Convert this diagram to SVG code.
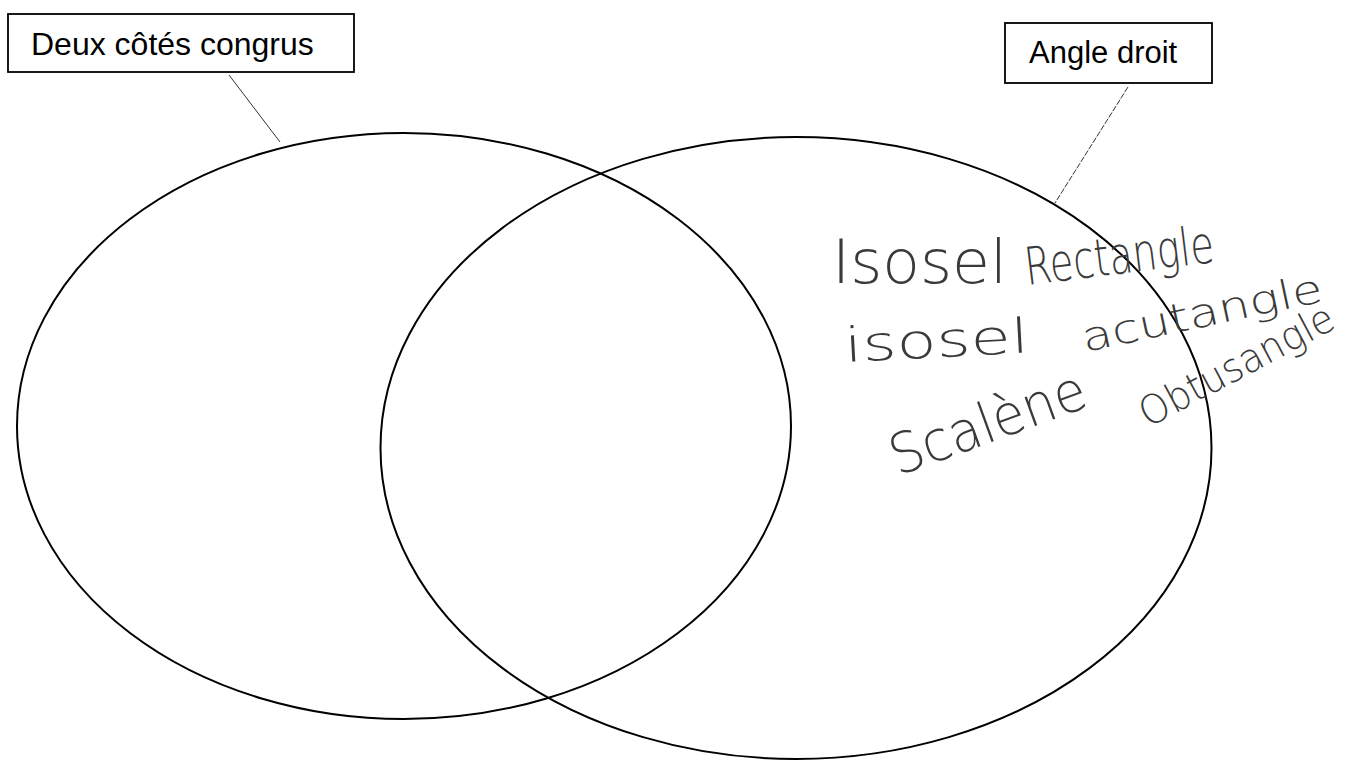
<svg xmlns="http://www.w3.org/2000/svg" width="1361" height="761" viewBox="0 0 1361 761">
  <style>
    .box { fill: #ffffff; stroke: #000000; stroke-width: 1.8; }
    .lbl { font-family: "Liberation Sans", Arial, sans-serif; fill: #000000; }
    .set { fill: none; stroke: #000000; stroke-width: 2; }
    .lead { stroke: #333333; stroke-width: 1; fill: none; }
    .hand { font-family: "DejaVu Sans", "Liberation Sans", sans-serif; font-weight: 200; fill: #3a3a3a; }
  </style>
  <rect width="1361" height="761" fill="#ffffff"/>

  <g id="set-deux-cotes-congrus">
    <ellipse class="set" cx="404" cy="426" rx="387" ry="293"/>
  </g>
  <g id="set-angle-droit">
    <ellipse class="set" cx="796" cy="448" rx="415.5" ry="311"/>
  </g>

  <g id="connectors">
    <line class="lead" x1="229" y1="75" x2="280" y2="142"/>
    <line class="lead" x1="1128" y1="87" x2="1055" y2="203" stroke-dasharray="6 1.5"/>
  </g>

  <g id="label-deux-cotes-congrus">
    <rect class="box" x="8" y="14" width="346" height="58"/>
    <text class="lbl" x="31" y="55" font-size="32">Deux côtés congrus</text>
  </g>
  <g id="label-angle-droit">
    <rect class="box" x="1005" y="23" width="207" height="60"/>
    <text class="lbl" x="1029" y="63" font-size="31">Angle droit</text>
  </g>

  <g id="handwriting">
    <text class="hand" x="832" y="283" font-size="60" textLength="175" lengthAdjust="spacingAndGlyphs">Isosel</text>
    <text class="hand" x="1027" y="285" font-size="52" textLength="190" lengthAdjust="spacingAndGlyphs" transform="rotate(-7 1027 285)">Rectangle</text>
    <text class="hand" x="845" y="362" font-size="48" textLength="185" lengthAdjust="spacingAndGlyphs" transform="rotate(-3 845 362)">isosel</text>
    <text class="hand" x="1085" y="352" font-size="40" textLength="245" lengthAdjust="spacingAndGlyphs" transform="rotate(-12 1085 352)">acutangle</text>
    <text class="hand" x="898" y="476" font-size="56" textLength="205" lengthAdjust="spacingAndGlyphs" transform="rotate(-20 898 476)">Scalène</text>
    <text class="hand" x="1148" y="428" font-size="40" textLength="215" lengthAdjust="spacingAndGlyphs" transform="rotate(-28 1148 428)">Obtusangle</text>
  </g>
</svg>
